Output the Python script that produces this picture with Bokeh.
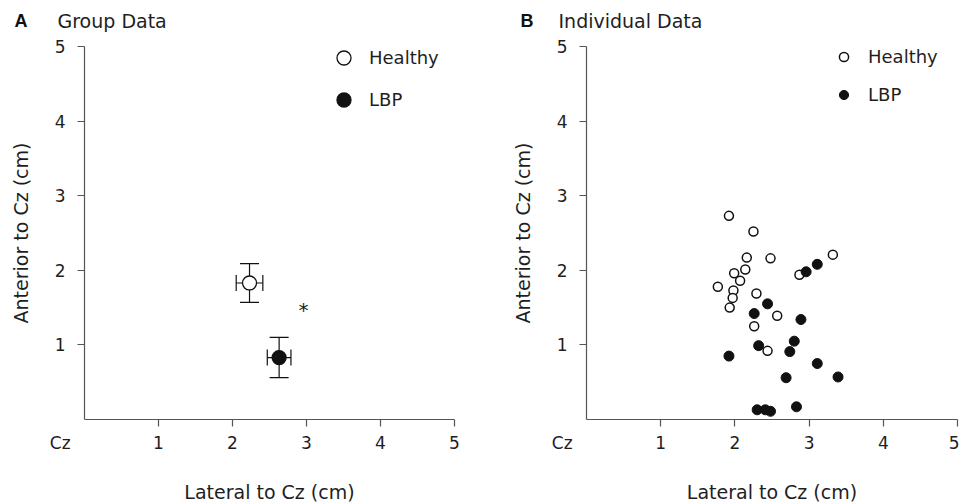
from bokeh.plotting import figure
from bokeh.layouts import row, column
from bokeh.models import (Range1d, Label, FixedTicker, Whisker, ColumnDataSource,
                          TeeHead, Legend, LegendItem)
from bokeh.embed import file_html
from bokeh.resources import INLINE

# ---------------- data ----------------
group_names = ["Healthy", "LBP"]
group_x = [2.23, 2.63]
group_y = [1.83, 0.83]
group_xerr = [0.18, 0.16]
group_yerr = [0.26, 0.27]
sig_x, sig_y = 2.96, 1.5

healthy_x = [1.92, 2.25, 2.16, 2.48, 3.32, 2.14, 1.99, 2.87, 2.07, 1.77, 1.98, 2.29,
             1.97, 1.93, 2.57, 2.26, 2.44]
healthy_y = [2.73, 2.52, 2.17, 2.16, 2.21, 2.01, 1.96, 1.94, 1.86, 1.78, 1.73, 1.69,
             1.63, 1.50, 1.39, 1.25, 0.92]
lbp_x = [3.11, 2.96, 2.44, 2.26, 2.89, 2.80, 2.32, 2.74, 1.92, 3.11, 2.69, 3.39,
         2.30, 2.41, 2.48, 2.83]
lbp_y = [2.08, 1.98, 1.55, 1.42, 1.34, 1.05, 0.99, 0.91, 0.85, 0.75, 0.56, 0.57,
         0.13, 0.13, 0.11, 0.17]

tick_values = [1, 2, 3, 4, 5]
x_label_ticks = [0, 1, 2, 3, 4, 5]
x_label = "Lateral to Cz (cm)"
y_label = "Anterior to Cz (cm)"
origin_label = "Cz"
panel_letters = ["A", "B"]
panel_titles = ["Group Data", "Individual Data"]

FONT = "DejaVu Sans"
TXT = "#1e1e1e"
AX = "#555555"
HEADER_H = 36
FRAME_H = 373
TOP = 10
BOTTOM = 85
NBSP = "\u00a0"

# ---------------- header with panel titles ----------------
hdr = figure(output_backend="svg", toolbar_location=None, frame_width=959,
             frame_height=HEADER_H, min_border=0, x_range=Range1d(0, 1),
             y_range=Range1d(0, 1))
hdr.axis.visible = False
hdr.grid.visible = False
hdr.outline_line_color = None
for letter, title, lx, tx in zip(panel_letters, panel_titles, [14, 520], [57, 558]):
    hdr.add_layout(Label(x=lx, y=HEADER_H - 20, x_units="screen", y_units="screen",
                         text=letter, text_font="Liberation Sans", text_font_style="bold",
                         text_font_size="18px", text_color="#111111",
                         text_align="left", text_baseline="middle"))
    hdr.add_layout(Label(x=tx, y=HEADER_H - 20, x_units="screen", y_units="screen",
                         text=title, text_font=FONT, text_font_size="19px", text_color=TXT,
                         text_align="left", text_baseline="middle"))


def make_panel(left, fw, right):
    p = figure(output_backend="svg", toolbar_location=None,
               frame_width=fw, frame_height=FRAME_H,
               min_border_left=left, min_border_right=right,
               min_border_top=TOP, min_border_bottom=BOTTOM,
               x_range=Range1d(0, 5), y_range=Range1d(0, 5),
               background_fill_color="white", border_fill_color="white")
    p.outline_line_color = None
    p.grid.visible = False
    for ax in (p.xaxis[0], p.yaxis[0]):
        ax.axis_line_color = AX
        ax.axis_line_width = 1.2
        ax.major_tick_out = 7
        ax.major_tick_in = 0
        ax.major_label_text_font = FONT
        ax.major_label_text_font_size = "17px"
        ax.major_label_text_color = TXT
        ax.axis_label_text_font = FONT
        ax.axis_label_text_font_size = "19px"
        ax.axis_label_text_font_style = "normal"
        ax.axis_label_text_color = TXT
    # y axis: plain ticks 1..5
    p.yaxis.ticker = FixedTicker(ticks=tick_values)
    p.yaxis.major_tick_line_color = AX
    p.yaxis.major_tick_line_width = 1.2
    p.yaxis.minor_tick_line_color = None
    # x axis: labels at 0..5 ("Cz" at the origin), tick marks only at 1..5
    p.xaxis.ticker = FixedTicker(ticks=x_label_ticks, minor_ticks=tick_values)
    p.xaxis.major_label_overrides = {0: origin_label + NBSP * 9}
    p.xaxis.major_tick_line_color = None
    p.xaxis.minor_tick_line_color = AX
    p.xaxis.minor_tick_line_width = 1.2
    p.xaxis.minor_tick_out = 7
    p.xaxis.minor_tick_in = 0

    p.xaxis.axis_label = x_label
    p.yaxis.axis_label = y_label
    p.xaxis.major_label_standoff = 6
    p.xaxis.axis_label_standoff = 25
    p.yaxis.major_label_standoff = 12
    p.yaxis.axis_label_standoff = 20
    return p


# ---------------- panel A ----------------
pa = make_panel(84, 370, 26)
src = ColumnDataSource(dict(
    x=group_x, y=group_y,
    xl=[a - b for a, b in zip(group_x, group_xerr)], xu=[a + b for a, b in zip(group_x, group_xerr)],
    yl=[a - b for a, b in zip(group_y, group_yerr)], yu=[a + b for a, b in zip(group_y, group_yerr)]))
wy = Whisker(source=src, base="x", lower="yl", upper="yu", dimension="height",
             line_color="#111111", line_width=1.2,
             upper_head=TeeHead(size=19, line_color="#111111", line_width=1.2),
             lower_head=TeeHead(size=19, line_color="#111111", line_width=1.2))
wx = Whisker(source=src, base="y", lower="xl", upper="xu", dimension="width",
             line_color="#111111", line_width=1.2,
             upper_head=TeeHead(size=16, line_color="#111111", line_width=1.2),
             lower_head=TeeHead(size=16, line_color="#111111", line_width=1.2))
pa.add_layout(wy)
pa.add_layout(wx)
ra_h = pa.scatter(x=group_x[:1], y=group_y[:1], marker="circle", size=14,
                  fill_color="white", line_color="#111111", line_width=1.3)
ra_l = pa.scatter(x=group_x[1:], y=group_y[1:], marker="circle", size=14,
                  fill_color="#111111", line_color="#111111", line_width=1.3)
pa.add_layout(Label(x=sig_x, y=sig_y, text="*", text_font=FONT, text_font_size="20px",
                    text_color=TXT, text_align="center", text_baseline="middle",
                    y_offset=-2))
leg_a = Legend(items=[LegendItem(label=group_names[0], renderers=[ra_h]),
                      LegendItem(label=group_names[1], renderers=[ra_l])],
               location=(242, 302), glyph_width=35, glyph_height=35, spacing=7,
               label_standoff=8, padding=0, margin=0, border_line_color=None,
               background_fill_alpha=0, label_text_font=FONT, label_text_font_size="18px",
               label_text_color=TXT, label_height=35)
pa.add_layout(leg_a)

# ---------------- panel B ----------------
pb = make_panel(106, 371, 2)
rb_h = pb.scatter(x=healthy_x, y=healthy_y, marker="circle", size=9,
                  fill_color="white", line_color="#111111", line_width=1.5)
rb_l = pb.scatter(x=lbp_x, y=lbp_y, marker="circle", size=10,
                  fill_color="#111111", line_color="#111111", line_width=1)
leg_b = Legend(items=[LegendItem(label=group_names[0], renderers=[rb_h]),
                      LegendItem(label=group_names[1], renderers=[rb_l])],
               location=(246, 313), glyph_width=23, glyph_height=23, spacing=15,
               label_standoff=13, padding=0, margin=0, border_line_color=None,
               background_fill_alpha=0, label_text_font=FONT, label_text_font_size="18px",
               label_text_color=TXT, label_height=23)
pb.add_layout(leg_b)

layout = column(hdr, row(pa, pb, spacing=0), spacing=0)
open("out.html", "w").write(file_html(layout, INLINE))
